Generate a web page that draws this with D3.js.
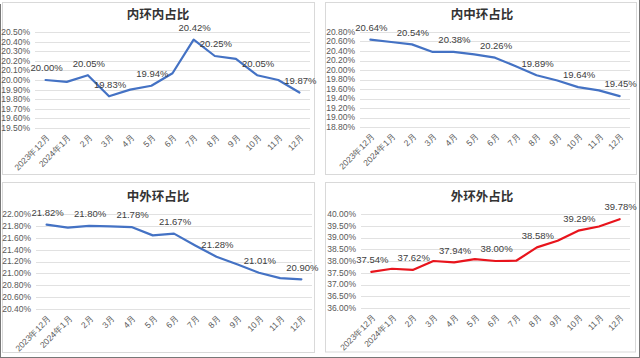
<!DOCTYPE html>
<html><head><meta charset="utf-8">
<script src="https://cdn.jsdelivr.net/npm/d3@7"></script>
<style>
html,body{margin:0;padding:0;background:#fff;}
svg{display:block;}
</style></head>
<body>
<svg id="c" width="640" height="358"></svg>
<script>
const months = ["2023年12月","2024年1月","2月","3月","4月","5月","6月","7月","8月","9月","10月","11月","12月"];

const titles = ["内环内占比","内中环占比","中外环占比","外环外占比"];

const innerInner = [20.00,19.98,20.05,19.83,19.90,19.94,20.07,20.42,20.25,20.22,20.05,20.00,19.87];
const innerMid   = [20.64,20.59,20.54,20.38,20.38,20.33,20.26,20.08,19.89,19.78,19.64,19.57,19.45];
const midOuter   = [21.82,21.77,21.80,21.79,21.78,21.64,21.67,21.47,21.28,21.15,21.01,20.92,20.90];
const outerOuter = [37.54,37.67,37.62,38.00,37.94,38.08,38.00,38.01,38.58,38.86,39.29,39.47,39.78];

const labelIdx1 = [0,2,3,5,7,8,10,12];
const labelIdxRest = [0,2,4,6,8,10,12];

const ticks1 = [19.5,19.6,19.7,19.8,19.9,20.0,20.1,20.2,20.3,20.4,20.5];
const ticks2 = [18.8,19.0,19.2,19.4,19.6,19.8,20.0,20.2,20.4,20.6,20.8];
const ticks3 = [20.4,20.6,20.8,21.0,21.2,21.4,21.6,21.8,22.0];
const ticks4 = [36.0,36.5,37.0,37.5,38.0,38.5,39.0,39.5,40.0];

const svg = d3.select("#c");
const numFont = "'Liberation Sans Narrow','Liberation Sans',Arial,sans-serif";
const cjkFont = "'Noto Sans CJK SC','Microsoft YaHei',sans-serif";

// panel frames
const frames = [
  {x:2.5,y:2.5,w:312,h:172},
  {x:325.5,y:2.5,w:311,h:172},
  {x:2.5,y:182.5,w:312,h:170},
  {x:325.5,y:182.5,w:310,h:169.5}
];
svg.selectAll("rect.frame").data(frames).enter().append("rect")
  .attr("class","frame")
  .attr("x",d=>d.x).attr("y",d=>d.y).attr("width",d=>d.w).attr("height",d=>d.h)
  .attr("fill","#fff").attr("stroke","#d9d9d9").attr("stroke-width",1);

// outer edge lines
svg.append("line").attr("x1",0.5).attr("x2",0.5).attr("y1",4).attr("y2",358).attr("stroke","#777");
svg.append("line").attr("x1",639.5).attr("x2",639.5).attr("y1",0).attr("y2",358).attr("stroke","#777");
svg.append("line").attr("x1",0).attr("x2",640).attr("y1",357.5).attr("y2",357.5).attr("stroke","#777");

const panels = [
  {title:titles[0], data:innerInner, labels:labelIdx1, ticks:ticks1, dom:[19.5,20.5], xr:[35,310], yr:[128,32], tx:158, ty:15, color:"#4472c4"},
  {title:titles[1], data:innerMid, labels:labelIdxRest, ticks:ticks2, dom:[18.8,20.8], xr:[360,630], yr:[127,32], tx:482, ty:15, color:"#4472c4"},
  {title:titles[2], data:midOuter, labels:labelIdxRest, ticks:ticks3, dom:[20.4,22.0], xr:[36,312], yr:[309,214], tx:158, ty:197, color:"#4472c4"},
  {title:titles[3], data:outerOuter, labels:labelIdxRest, ticks:ticks4, dom:[36,40], xr:[361,630], yr:[308,214], tx:482, ty:197, color:"#e8141c"}
];

panels.forEach(p => {
  const g = svg.append("g");
  const x = d3.scaleBand().domain(months).range(p.xr);
  const y = d3.scaleLinear().domain(p.dom).range(p.yr);
  const cx = m => x(m) + x.bandwidth()/2;

  // gridlines
  g.selectAll("line.grid").data(p.ticks).enter().append("line")
    .attr("x1",p.xr[0]).attr("x2",p.xr[1])
    .attr("y1",d=>Math.round(y(d))+0.5).attr("y2",d=>Math.round(y(d))+0.5)
    .attr("stroke","#d9d9d9").attr("stroke-width",0.8);

  // y tick labels
  g.selectAll("text.yt").data(p.ticks).enter().append("text")
    .attr("x",p.xr[0]-5).attr("y",d=>y(d)).attr("dy","0.35em")
    .attr("text-anchor","end")
    .attr("font-family",numFont).attr("font-size",8.5)
    .attr("fill","#595959")
    .text(d=>d.toFixed(2)+"%");

  // x tick labels
  g.selectAll("text.xt").data(months).enter().append("text")
    .attr("transform",d=>`translate(${cx(d)+3},${p.yr[0]+8}) rotate(-45)`)
    .attr("text-anchor","end").attr("dy","0.35em")
    .attr("font-family",numFont).attr("font-size",8.5)
    .attr("fill","#595959")
    .text(d=>d);

  // title
  g.append("text").attr("x",p.tx).attr("y",p.ty).attr("dy","0.35em")
    .attr("text-anchor","middle")
    .attr("font-family",cjkFont).attr("font-size",12.5).attr("font-weight","bold")
    .attr("fill","#333")
    .text(p.title);

  // line
  const line = d3.line().x((d,i)=>cx(months[i])).y(d=>y(d));
  g.append("path").datum(p.data).attr("d",line)
    .attr("fill","none").attr("stroke",p.color).attr("stroke-width",2.2)
    .attr("stroke-linejoin","round").attr("stroke-linecap","round");

  // data labels
  g.selectAll("text.dl").data(p.labels).enter().append("text")
    .attr("x",i=>cx(months[i])+1).attr("y",i=>y(p.data[i])-12).attr("dy","0.35em")
    .attr("text-anchor","middle")
    .attr("font-family",numFont).attr("font-size",9.5)
    .attr("fill","#404040")
    .text(i=>p.data[i].toFixed(2)+"%");
});
</script>
</body></html>
